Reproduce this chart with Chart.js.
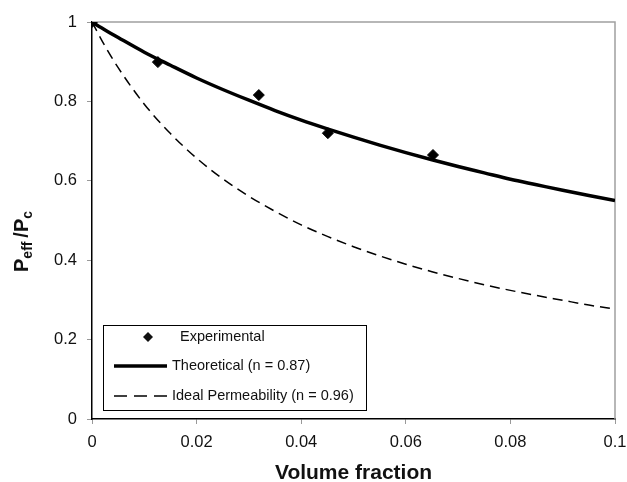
<!DOCTYPE html>
<html lang="en">
<head>
    <meta charset="UTF-8" />
    <title>Peff/Pc vs volume fraction</title>
    <script src="https://cdn.jsdelivr.net/npm/chart.js"></script>
    <style>
        body { margin: 0; background: #fff; }
        #wrap { width: 627px; height: 482px; }
    </style>
</head>
<body>
    <div id="wrap"><canvas id="chart" width="627" height="482"></canvas></div>

    <script>
        // values
        const volumeFraction = [0, 0.0025, 0.005, 0.01, 0.015, 0.02, 0.025, 0.03, 0.035, 0.04, 0.045, 0.05,
                                0.055, 0.06, 0.065, 0.07, 0.075, 0.08, 0.085, 0.09, 0.095, 0.1];
        const theoretical = [1, 0.980, 0.961, 0.924, 0.891, 0.859, 0.830, 0.803, 0.777, 0.753, 0.731, 0.710,
                             0.690, 0.671, 0.653, 0.636, 0.620, 0.604, 0.590, 0.576, 0.563, 0.550];
        const idealPermeability = [1, 0.939, 0.885, 0.793, 0.719, 0.657, 0.605, 0.561, 0.523, 0.489, 0.460, 0.434,
                                   0.411, 0.390, 0.371, 0.354, 0.338, 0.324, 0.311, 0.299, 0.287, 0.277];
        const expFraction = [0, 0.0126, 0.0319, 0.0451, 0.0652];
        const expValue = [1, 0.899, 0.816, 0.720, 0.665];

        const font = "'Liberation Sans', Arial, sans-serif";

        const toPoints = (xs, ys) => xs.map((x, i) => ({ x: x, y: ys[i] }));
        const shortNum = v => String(+v.toFixed(2));

        // frame, y title with subscripts and the boxed legend
        const extras = {
            id: 'extras',
            beforeDatasetsDraw(chart) {
                const { ctx, chartArea: a } = chart;
                ctx.save();
                ctx.strokeStyle = '#a0a0a0';
                ctx.lineWidth = 1.5;
                ctx.beginPath();
                ctx.moveTo(a.left, a.top);
                ctx.lineTo(a.right, a.top);
                ctx.lineTo(a.right, a.bottom);
                ctx.stroke();
                ctx.restore();
            },
            afterDraw(chart) {
                const { ctx, chartArea: a } = chart;
                ctx.save();

                // y axis title: P_eff /P_c
                ctx.translate(28, 272);
                ctx.rotate(-Math.PI / 2);
                ctx.fillStyle = '#111';
                ctx.textBaseline = 'alphabetic';
                const big = 'bold 20px ' + font, small = 'bold 14px ' + font;
                let x = 0;
                const part = (t, f, dy) => {
                    ctx.font = f;
                    ctx.fillText(t, x, dy);
                    x += ctx.measureText(t).width;
                };
                part('P', big, 0);
                part('eff ', small, 4);
                part('/P', big, 0);
                part('c', small, 4);
                ctx.restore();

                // legend
                const ds = chart.data.datasets;
                const lx = a.left + 11, ly = a.bottom - 94, lw = 263, lh = 85;
                ctx.save();
                ctx.fillStyle = '#fff';
                ctx.fillRect(lx, ly, lw, lh);
                ctx.strokeStyle = '#000';
                ctx.lineWidth = 1;
                ctx.strokeRect(lx + 0.5, ly + 0.5, lw, lh);

                ctx.font = '14.5px ' + font;
                ctx.fillStyle = '#111';
                ctx.textBaseline = 'middle';

                // experimental
                let ry = ly + 12;
                ctx.beginPath();
                ctx.moveTo(lx + 45, ry - 5);
                ctx.lineTo(lx + 50, ry);
                ctx.lineTo(lx + 45, ry + 5);
                ctx.lineTo(lx + 40, ry);
                ctx.closePath();
                ctx.fill();
                ctx.fillText(ds[0].label, lx + 77, ry);

                // theoretical
                ry = ly + 41;
                ctx.strokeStyle = '#000';
                ctx.lineWidth = ds[1].borderWidth;
                ctx.beginPath();
                ctx.moveTo(lx + 11, ry);
                ctx.lineTo(lx + 64, ry);
                ctx.stroke();
                ctx.fillText(ds[1].label, lx + 69, ry);

                // ideal
                ry = ly + 71;
                ctx.lineWidth = ds[2].borderWidth;
                ctx.setLineDash([13, 7]);
                ctx.beginPath();
                ctx.moveTo(lx + 11, ry);
                ctx.lineTo(lx + 64, ry);
                ctx.stroke();
                ctx.setLineDash([]);
                ctx.fillText(ds[2].label, lx + 69, ry);
                ctx.restore();
            }
        };

        new Chart(document.getElementById('chart'), {
            type: 'scatter',
            data: {
                datasets: [
                    {
                        label: 'Experimental',
                        data: toPoints(expFraction, expValue),
                        pointStyle: 'rectRot',
                        pointRadius: 5.5,
                        backgroundColor: '#000',
                        borderColor: '#000',
                        showLine: false,
                        order: 0
                    },
                    {
                        label: 'Theoretical (n = 0.87)',
                        data: toPoints(volumeFraction, theoretical),
                        showLine: true,
                        borderColor: '#000',
                        borderWidth: 3.5,
                        pointRadius: 0,
                        cubicInterpolationMode: 'monotone',
                        order: 1
                    },
                    {
                        label: 'Ideal Permeability (n = 0.96)',
                        data: toPoints(volumeFraction, idealPermeability),
                        showLine: true,
                        borderColor: '#000',
                        borderWidth: 1.5,
                        borderDash: [10, 6],
                        pointRadius: 0,
                        cubicInterpolationMode: 'monotone',
                        order: 2
                    }
                ]
            },
            options: {
                responsive: false,
                animation: false,
                layout: { padding: { left: 0, right: 12, top: 22, bottom: 0 } },
                plugins: {
                    legend: { display: false },
                    tooltip: { enabled: false }
                },
                scales: {
                    x: {
                        type: 'linear',
                        min: 0,
                        max: 0.1,
                        ticks: { stepSize: 0.02, color: '#111', padding: 9, font: { family: font, size: 16.5 },
                                 callback: shortNum },
                        grid: { drawOnChartArea: false, tickLength: 5, color: '#999' },
                        border: { color: '#000', width: 1.5 },
                        title: {
                            display: true,
                            text: 'Volume fraction',
                            color: '#111',
                            font: { family: font, size: 21, weight: 'bold' },
                            padding: { top: 0, bottom: -4 }
                        },
                        afterFit(s) {
                            s.height = 63;
                            s.paddingLeft = 0;
                            s.paddingRight = 0;
                        }
                    },
                    y: {
                        min: 0,
                        max: 1,
                        ticks: { stepSize: 0.2, color: '#111', padding: 10, font: { family: font, size: 16.5 },
                                 callback: shortNum },
                        grid: { drawOnChartArea: false, tickLength: 5, color: '#999' },
                        border: { color: '#000', width: 1.5 },
                        afterFit(s) {
                            s.width = 92;
                            s.paddingTop = 0;
                            s.paddingBottom = 0;
                        }
                    }
                }
            },
            plugins: [extras]
        });
    </script>
</body>
</html>
